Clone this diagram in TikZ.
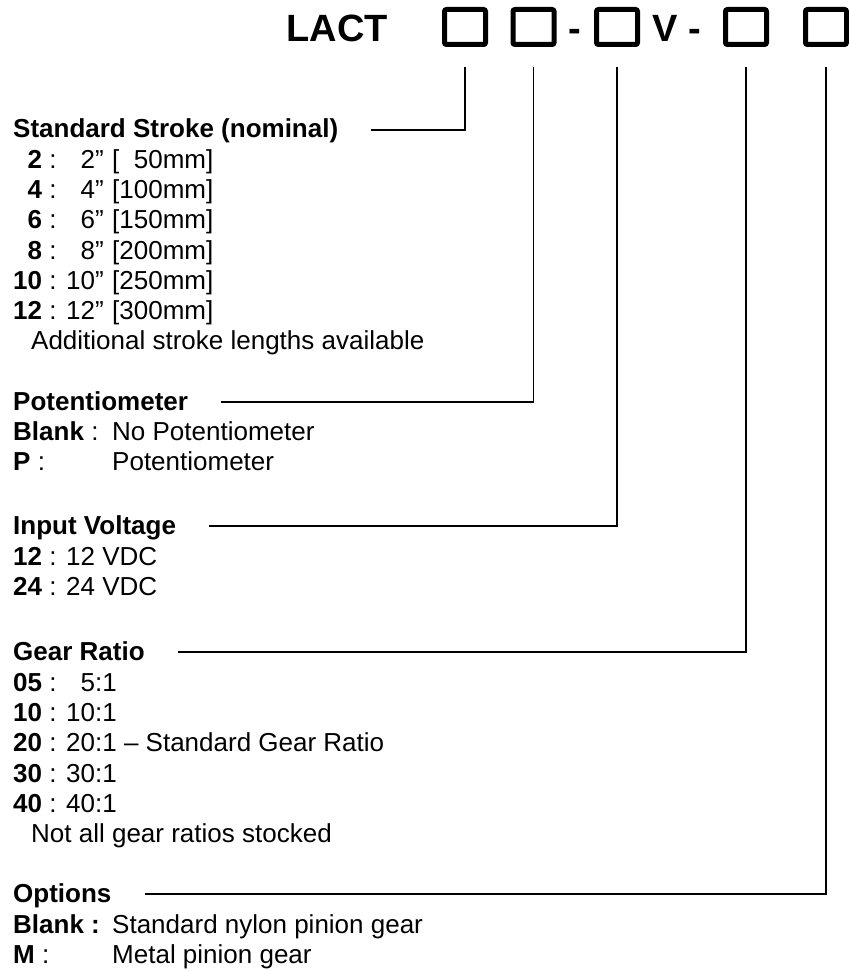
\documentclass[tikz,border=0pt]{standalone}
\usepackage{fontspec}
\setmainfont{Liberation Sans}
\usetikzlibrary{calc}
\tikzset{
    slot/.style = {draw, rectangle, line width=5pt, rounded corners=2pt,
        minimum width=41pt, minimum height=35pt, inner sep=0pt},
    title/.style = {font=\bfseries\fontsize{38}{44}\selectfont,
        inner sep=0pt, anchor=base},
    item/.style = {font=\fontsize{26}{30}\selectfont,
        inner sep=0pt, anchor=base west},
    head/.style = {item, font=\bfseries\fontsize{26}{30}\selectfont},
    leader/.style = {draw, line width=1.5pt}
}
\newcommand{\tabbox}[1]{\makebox[99pt][l]{#1}}

\begin{document}
\begin{tikzpicture}[x=1pt, y=-1pt]
    \useasboundingbox (0,0) rectangle (848,971);
    % part number
    \node[title] (lact) at (337,42) {LACT};
    \node[slot] (b1) at (465,27) {};
    \node[slot] (b2) at (533.5,27) {};
    \node[title] (dash1) at (575,42) {-};
    \node[slot] (b3) at (617,27) {};
    \node[title] (volt) at (677,42) {V -};
    \node[slot] (b4) at (746,27) {};
    \node[slot] (b5) at (826,27) {};
    % stroke
    \node[head] (hdStroke) at (13,138) {Standard Stroke (nominal)};
    \node[item] (st2) at (13,168) {\tabbox{\phantom{1}\textbf{2} : \phantom{1}2”}[\phantom{1}50mm]};
    \node[item] (st4) at (13,198) {\tabbox{\phantom{1}\textbf{4} : \phantom{1}4”}[100mm]};
    \node[item] (st6) at (13,228) {\tabbox{\phantom{1}\textbf{6} : \phantom{1}6”}[150mm]};
    \node[item] (st8) at (13,259) {\tabbox{\phantom{1}\textbf{8} : \phantom{1}8”}[200mm]};
    \node[item] (st10) at (13,289) {\tabbox{\textbf{10} : 10”}[250mm]};
    \node[item] (st12) at (13,319) {\tabbox{\textbf{12} : 12”}[300mm]};
    \node[item] (stNote) at (31,349) {Additional stroke lengths available};
    % potentiometer
    \node[head] (hdPot) at (13,410) {Potentiometer};
    \node[item] (potBlank) at (13,440) {\tabbox{\textbf{Blank} : }No Potentiometer};
    \node[item] (potP) at (13,470) {\tabbox{\textbf{P} : }Potentiometer};
    % voltage
    \node[head] (hdVolt) at (13,534) {Input Voltage};
    \node[item] (v12) at (13,565) {\textbf{12} : 12 VDC};
    \node[item] (v24) at (13,595) {\textbf{24} : 24 VDC};
    % gear ratio
    \node[head] (hdGear) at (13,660) {Gear Ratio};
    \node[item] (g05) at (13,691) {\textbf{05} : \phantom{1}5:1};
    \node[item] (g10) at (13,721) {\textbf{10} : 10:1};
    \node[item] (g20) at (13,751) {\textbf{20} : 20:1 – Standard Gear Ratio};
    \node[item] (g30) at (13,782) {\textbf{30} : 30:1};
    \node[item] (g40) at (13,812) {\textbf{40} : 40:1};
    \node[item] (gNote) at (31,842) {Not all gear ratios stocked};
    % options
    \node[head] (hdOpt) at (13,902) {Options};
    \node[item] (optBlank) at (13,933) {\tabbox{\textbf{Blank :}}Standard nylon pinion gear};
    \node[item] (optM) at (13,963) {\tabbox{\textbf{M} : }Metal pinion gear};
    % leaders
    \draw[leader] ([xshift=33pt,yshift=8pt]hdStroke.base east) -| ([yshift=-20pt]b1.south);
    \draw[leader] ([xshift=33pt,yshift=8pt]hdPot.base east) -| ([yshift=-20pt]b2.south);
    \draw[leader] ([xshift=33pt,yshift=8pt]hdVolt.base east) -| ([yshift=-20pt]b3.south);
    \draw[leader] ([xshift=33pt,yshift=8pt]hdGear.base east) -| ([yshift=-20pt]b4.south);
    \draw[leader] ([xshift=33pt,yshift=8pt]hdOpt.base east) -| ([yshift=-20pt]b5.south);
\end{tikzpicture}
\end{document}
